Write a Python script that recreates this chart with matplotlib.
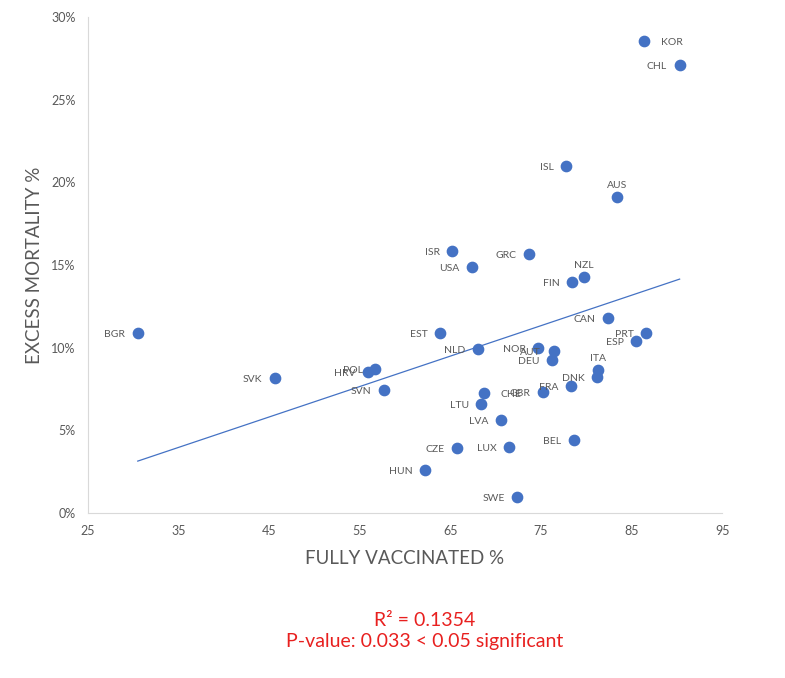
import matplotlib
matplotlib.use("Agg")
import matplotlib.pyplot as plt
from matplotlib.ticker import FuncFormatter
import numpy as np

plt.rcParams['font.family'] = ['Lato', 'DejaVu Sans']

countries = ["KOR", "CHL", "ISL", "AUS", "ISR", "GRC", "USA", "NZL", "FIN", "CAN",
             "BGR", "EST", "PRT", "ESP", "NLD", "NOR", "AUT", "DEU", "ITA", "DNK",
             "POL", "HRV", "SVK", "SVN", "CHE", "GBR", "FRA", "LTU", "LVA", "BEL",
             "CZE", "LUX", "HUN", "SWE"]
vaccinated = [86.4, 90.3, 77.8, 83.4, 65.2, 73.7, 67.4, 79.7, 78.4, 82.4,
              30.5, 63.9, 86.6, 85.5, 68.0, 74.7, 76.4, 76.2, 81.3, 81.2,
              56.7, 55.9, 45.6, 57.7, 68.7, 75.2, 78.3, 68.4, 70.6, 78.6,
              65.7, 71.5, 62.2, 72.4]
excess = [28.55, 27.1, 21.0, 19.1, 15.85, 15.67, 14.9, 14.3, 13.97, 11.8,
          10.9, 10.9, 10.9, 10.4, 9.9, 10.0, 9.8, 9.26, 8.65, 8.2,
          8.7, 8.5, 8.15, 7.44, 7.26, 7.3, 7.7, 6.6, 5.6, 4.4,
          3.9, 4.0, 2.6, 0.97]

x_ticks = [25, 35, 45, 55, 65, 75, 85, 95]
y_ticks = [0, 5, 10, 15, 20, 25, 30]

label_above = ["AUS", "NZL", "ITA"]
label_right = ["KOR", "CHE"]

blue = "#4472C4"
gray = "#595959"

fig = plt.figure(figsize=(7.85, 6.78), dpi=100)
ax = fig.add_axes([0.112, 0.2434, 0.808, 0.7316])

ax.scatter(vaccinated, excess, s=55, color=blue, zorder=3)

# linear trendline
slope, intercept = np.polyfit(vaccinated, excess, 1)
xs = np.array([min(vaccinated), max(vaccinated)])
ax.plot(xs, slope * xs + intercept, color=blue, lw=0.9, zorder=2)

for c, x, y in zip(countries, vaccinated, excess):
    if c in label_above:
        ax.annotate(c, (x, y), xytext=(0, 5), textcoords="offset points",
                    ha="center", va="bottom", fontsize=7.5, color=gray)
    elif c in label_right:
        ax.annotate(c, (x, y), xytext=(12, -1), textcoords="offset points",
                    ha="left", va="center", fontsize=7.5, color=gray)
    else:
        ax.annotate(c, (x, y), xytext=(-9, -1), textcoords="offset points",
                    ha="right", va="center", fontsize=7.5, color=gray)

ax.set_xlim(25, 95)
ax.set_ylim(0, 30)
ax.set_xticks(x_ticks)
ax.set_yticks(y_ticks)
ax.yaxis.set_major_formatter(FuncFormatter(lambda v, p: f"{v:.0f}%"))
ax.tick_params(length=0, colors=gray, labelsize=9, pad=9)

for s in ["top", "right"]:
    ax.spines[s].set_visible(False)
for s in ["left", "bottom"]:
    ax.spines[s].set_color("#D9D9D9")

ax.set_xlabel("FULLY VACCINATED %", fontsize=13.5, color=gray, labelpad=9)
ax.set_ylabel("EXCESS MORTALITY %", fontsize=13.5, color=gray, labelpad=6)

fig.text(0.541, 0.069, "R² = 0.1354\nP-value: 0.033 < 0.05 significant",
         ha="center", va="center", fontsize=14, color="#E8201F", linespacing=1.25)

fig.savefig("out.png", dpi=100)
